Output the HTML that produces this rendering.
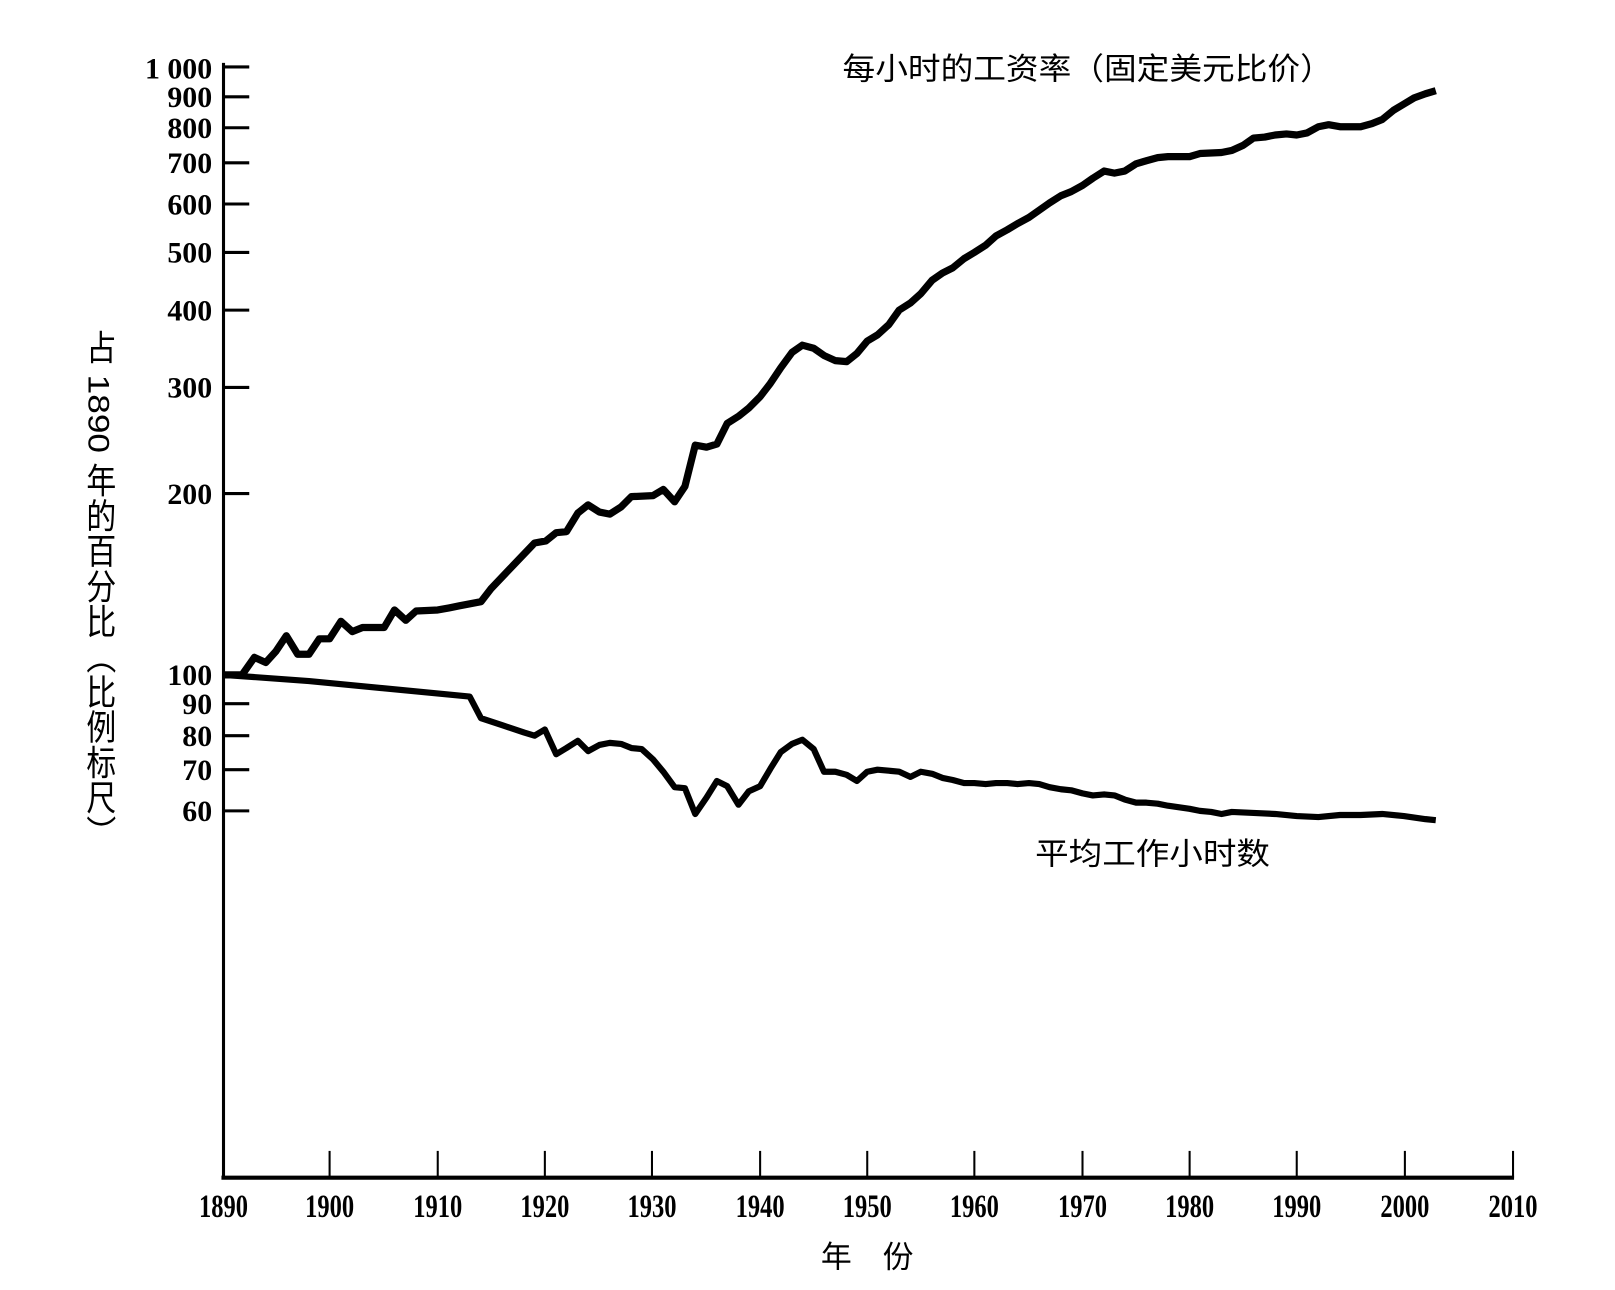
<!DOCTYPE html>
<html><head><meta charset="utf-8"><style>
html,body{margin:0;padding:0;background:#fff;}
svg{display:block;}
text{font-family:"Liberation Serif","Noto Serif CJK SC",serif;fill:#000;}
.cj{font-family:"Liberation Sans","Noto Sans CJK SC",sans-serif;}
</style></head><body>
<svg width="1615" height="1290" viewBox="0 0 1568 1252" preserveAspectRatio="none" xmlns="http://www.w3.org/2000/svg">
<rect width="1568" height="1252" fill="#fff"/>
<g stroke="#000" fill="none">
<line x1="217" y1="61" x2="217" y2="1144" stroke-width="3"/>
<line x1="215" y1="1143" x2="1470" y2="1143" stroke-width="4"/>
<g stroke-width="3">
<line x1="217" y1="65" x2="242" y2="65"/><line x1="217" y1="94" x2="242" y2="94"/><line x1="217" y1="124" x2="242" y2="124"/><line x1="217" y1="158" x2="242" y2="158"/><line x1="217" y1="198" x2="242" y2="198"/><line x1="217" y1="245" x2="242" y2="245"/><line x1="217" y1="301" x2="242" y2="301"/><line x1="217" y1="376" x2="242" y2="376"/><line x1="217" y1="479" x2="242" y2="479"/><line x1="217" y1="683" x2="242" y2="683"/><line x1="217" y1="714" x2="242" y2="714"/><line x1="217" y1="747" x2="242" y2="747"/><line x1="217" y1="787" x2="242" y2="787"/>
</g>
<g stroke-width="2">
<line x1="320" y1="1117" x2="320" y2="1143"/><line x1="425" y1="1117" x2="425" y2="1143"/><line x1="529" y1="1117" x2="529" y2="1143"/><line x1="633" y1="1117" x2="633" y2="1143"/><line x1="738" y1="1117" x2="738" y2="1143"/><line x1="842" y1="1117" x2="842" y2="1143"/><line x1="946" y1="1117" x2="946" y2="1143"/><line x1="1051" y1="1117" x2="1051" y2="1143"/><line x1="1155" y1="1117" x2="1155" y2="1143"/><line x1="1259" y1="1117" x2="1259" y2="1143"/><line x1="1364" y1="1117" x2="1364" y2="1143"/><line x1="1469" y1="1117" x2="1469" y2="1143"/>
</g>
<polyline stroke-width="7" stroke-linejoin="round" points="217,655 235,655 247,638 258,643 268,632 278,617 289,635 300,635 310,620 320,620 331,603 342,613 352,609 373,609 383,592 394,602 404,593 425,592 436,590 446,588 467,584 477,571 498,549 519,527 530,525 540,517 550,516 561,498 571,490 582,497 592,499 603,492 613,482 634,481 644,475 655,487 665,472 675,432 686,434 696,431 706,411 717,404 727,396 738,385 748,372 758,357 769,342 779,335 790,338 800,345 811,350 822,351 832,343 842,331 852,325 863,315 873,301 884,294 894,285 905,272 915,265 925,260 936,251 946,245 957,238 967,229 978,223 988,217 999,211 1009,204 1019,197 1030,190 1040,186 1051,180 1061,173 1072,166 1082,168 1092,166 1103,159 1113,156 1124,153 1134,152 1155,152 1165,149 1186,148 1196,146 1207,141 1217,134 1228,133 1238,131 1249,130 1259,131 1269,129 1280,123 1290,121 1301,123 1321,123 1332,120 1342,116 1353,107 1363,101 1373,95 1384,91 1394,88"/>
<polyline stroke-width="6" stroke-linejoin="round" points="217,655 300,661 456,676 467,697 488,704 509,711 519,714 529,708 540,732 550,726 561,719 571,729 582,723 592,721 603,722 613,726 623,727 634,737 644,749 655,764 665,765 675,790 686,774 696,758 706,763 717,781 727,768 738,763 748,746 758,730 769,722 779,718 790,727 800,749 811,749 822,752 832,758 842,749 852,747 863,748 873,749 884,754 894,749 905,751 915,755 925,757 936,760 946,760 957,761 967,760 978,760 988,761 999,760 1009,761 1019,764 1030,766 1040,767 1051,770 1061,772 1072,771 1082,772 1092,776 1103,779 1113,779 1124,780 1134,782 1155,785 1165,787 1176,788 1186,790 1196,788 1217,789 1238,790 1259,792 1280,793 1301,791 1321,791 1342,790 1363,792 1384,795 1394,796"/>
</g>
<g font-size="29" font-weight="bold" text-anchor="end">
<text x="206" y="76">1 000</text><text x="206" y="104">900</text><text x="206" y="134">800</text><text x="206" y="168">700</text><text x="206" y="208">600</text><text x="206" y="255">500</text><text x="206" y="311">400</text><text x="206" y="386">300</text><text x="206" y="489">200</text><text x="206" y="665">100</text><text x="206" y="693">90</text><text x="206" y="724">80</text><text x="206" y="757">70</text><text x="206" y="797">60</text>
</g>
<g font-size="28" font-weight="bold" text-anchor="middle">
<g transform="translate(217,1181) scale(0.85,1.15)"><text>1890</text></g>
<g transform="translate(320,1181) scale(0.85,1.15)"><text>1900</text></g>
<g transform="translate(425,1181) scale(0.85,1.15)"><text>1910</text></g>
<g transform="translate(529,1181) scale(0.85,1.15)"><text>1920</text></g>
<g transform="translate(633,1181) scale(0.85,1.15)"><text>1930</text></g>
<g transform="translate(738,1181) scale(0.85,1.15)"><text>1940</text></g>
<g transform="translate(842,1181) scale(0.85,1.15)"><text>1950</text></g>
<g transform="translate(946,1181) scale(0.85,1.15)"><text>1960</text></g>
<g transform="translate(1051,1181) scale(0.85,1.15)"><text>1970</text></g>
<g transform="translate(1155,1181) scale(0.85,1.15)"><text>1980</text></g>
<g transform="translate(1259,1181) scale(0.85,1.15)"><text>1990</text></g>
<g transform="translate(1364,1181) scale(0.85,1.15)"><text>2000</text></g>
<g transform="translate(1469,1181) scale(0.85,1.15)"><text>2010</text></g>
</g>
<text class="cj" x="842" y="1230" font-size="30" text-anchor="middle">年　份</text>
<text class="cj" x="818" y="77" font-size="30" textLength="476" lengthAdjust="spacingAndGlyphs">每小时的工资率（固定美元比价）</text>
<text class="cj" x="1005" y="839" font-size="30" textLength="228" lengthAdjust="spacingAndGlyphs">平均工作小时数</text>
<text class="cj" x="95" y="320" font-size="29" style="writing-mode:tb;glyph-orientation-vertical:auto" textLength="505" lengthAdjust="spacingAndGlyphs">占 1890 年的百分比（比例标尺）</text>
</svg>
</body></html>
